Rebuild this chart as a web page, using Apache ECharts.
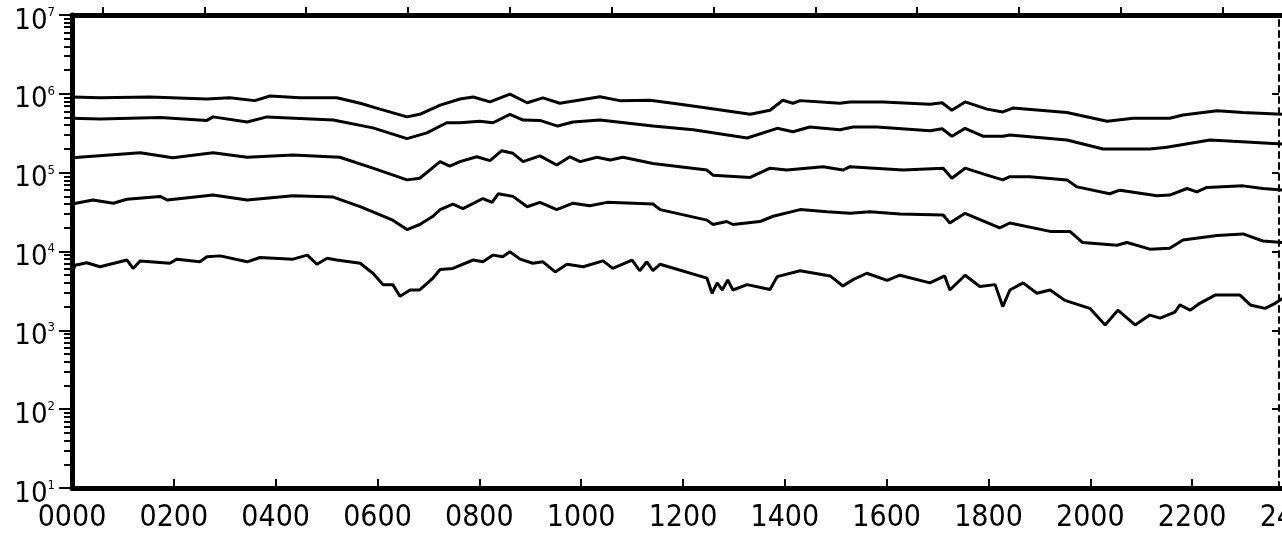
<!DOCTYPE html>
<html>
<head>
<meta charset="utf-8">
<script src="https://cdn.jsdelivr.net/npm/echarts@6/dist/echarts.min.js"></script>
<style>
html,body{margin:0;padding:0;background:#ffffff;}
#chart{width:1282px;height:535px;}
</style>
</head>
<body>
<div id="chart"></div>
<script>
// ---- tick labels ----
const xTickLabels = ['0000','0200','0400','0600','0800','1000','1200','1400','1600','1800','2000','2200','2400'];
const yExponents = [1, 2, 3, 4, 5, 6, 7];
const topTickTimes = [60, 260, 460, 660, 860, 1060, 1260, 1460, 1660, 1860, 2060, 2260];

// ---- series values: [time, value] ----
const series1 = [
  [0,9.1e5],[55,8.9e5],[153,9.1e5],[265,8.6e5],[310,8.9e5],[359,8.2e5],[389,9.4e5],[448,8.9e5],
  [520,8.9e5],[566,7.6e5],[605,6.4e5],[658,5.1e5],[683,5.5e5],[723,7.2e5],[762,8.6e5],[788,9.1e5],
  [821,7.9e5],[860,9.9e5],[894,7.7e5],[925,8.9e5],[958,7.6e5],[1037,9.2e5],[1076,8.2e5],[1135,8.3e5],
  [1180,7.6e5],[1247,6.6e5],[1332,5.5e5],[1371,6.2e5],[1396,8.3e5],[1416,7.6e5],[1430,8.2e5],[1508,7.6e5],
  [1528,7.9e5],[1593,7.9e5],[1685,7.4e5],[1709,7.7e5],[1728,6.2e5],[1754,7.9e5],[1797,6.4e5],[1828,5.9e5],
  [1848,6.6e5],[1954,5.8e5],[2033,4.5e5],[2084,4.9e5],[2156,4.9e5],[2182,5.4e5],[2249,6.1e5],[2300,5.8e5],
  [2380,5.5e5]
];
const series2 = [
  [0,4.9e5],[55,4.8e5],[173,5.0e5],[265,4.6e5],[277,5.1e5],[344,4.4e5],[383,5.1e5],[513,4.65e5],
  [591,3.7e5],[658,2.7e5],[697,3.2e5],[736,4.3e5],[762,4.3e5],[801,4.5e5],[827,4.3e5],[860,5.5e5],
  [886,4.65e5],[919,4.6e5],[954,3.9e5],[984,4.4e5],[1037,4.65e5],[1141,3.9e5],[1220,3.5e5],[1326,2.75e5],
  [1385,3.65e5],[1416,3.3e5],[1449,3.8e5],[1508,3.5e5],[1534,3.8e5],[1581,3.8e5],[1685,3.4e5],[1709,3.6e5],
  [1728,2.9e5],[1754,3.65e5],[1789,2.9e5],[1828,2.9e5],[1842,3.0e5],[1954,2.6e5],[2025,2.0e5],[2117,2.0e5],
  [2150,2.1e5],[2235,2.6e5],[2280,2.5e5],[2380,2.3e5]
];
const series3 = [
  [0,1.55e5],[134,1.79e5],[198,1.55e5],[277,1.79e5],[344,1.57e5],[434,1.68e5],[526,1.57e5],[591,1.14e5],
  [658,8.1e4],[683,8.5e4],[723,1.38e5],[742,1.21e5],[762,1.38e5],[795,1.59e5],[821,1.42e5],[844,1.9e5],
  [866,1.76e5],[886,1.38e5],[919,1.63e5],[952,1.25e5],[978,1.59e5],[998,1.38e5],[1031,1.57e5],[1057,1.45e5],
  [1082,1.57e5],[1141,1.31e5],[1247,1.08e5],[1259,9.3e4],[1332,8.7e4],[1371,1.14e5],[1404,1.08e5],[1475,1.19e5],
  [1514,1.08e5],[1528,1.19e5],[1632,1.08e5],[1711,1.14e5],[1728,8.5e4],[1754,1.14e5],[1797,9.3e4],[1828,8.1e4],
  [1842,8.9e4],[1881,8.9e4],[1954,8.1e4],[1974,6.6e4],[2038,5.4e4],[2058,6.0e4],[2131,5.1e4],[2156,5.2e4],
  [2190,6.3e4],[2209,5.7e4],[2229,6.5e4],[2300,6.8e4],[2339,6.3e4],[2380,6.0e4]
];
const series4 = [
  [0,4.0e4],[41,4.5e4],[81,4.1e4],[108,4.6e4],[173,5.0e4],[187,4.5e4],[277,5.2e4],[344,4.5e4],
  [434,5.1e4],[513,4.9e4],[566,3.7e4],[630,2.5e4],[658,1.9e4],[683,2.2e4],[709,2.8e4],[723,3.4e4],
  [748,4.0e4],[768,3.5e4],[807,4.7e4],[825,4.2e4],[837,5.4e4],[866,5.0e4],[894,3.7e4],[919,4.2e4],
  [952,3.4e4],[984,4.1e4],[1017,3.8e4],[1051,4.2e4],[1141,4.0e4],[1155,3.4e4],[1247,2.5e4],[1259,2.2e4],
  [1286,2.4e4],[1298,2.2e4],[1351,2.4e4],[1377,2.8e4],[1430,3.4e4],[1483,3.2e4],[1528,3.05e4],[1567,3.2e4],
  [1626,3.0e4],[1711,2.9e4],[1724,2.3e4],[1754,3.05e4],[1822,2.0e4],[1842,2.3e4],[1921,1.8e4],[1960,1.8e4],
  [1985,1.3e4],[2052,1.2e4],[2072,1.3e4],[2117,1.07e4],[2156,1.1e4],[2182,1.4e4],[2249,1.6e4],[2300,1.67e4],
  [2339,1.36e4],[2380,1.3e4]
];
const series5 = [
  [0,5.3e3],[6,6.7e3],[29,7.2e3],[55,6.4e3],[108,7.8e3],[120,6.1e3],[134,7.6e3],[192,7.1e3],
  [206,8.0e3],[251,7.4e3],[265,8.6e3],[291,8.8e3],[344,7.4e3],[369,8.4e3],[434,8.0e3],[462,9.0e3],
  [481,6.9e3],[501,8.2e3],[520,7.8e3],[566,7.1e3],[591,5.3e3],[611,3.8e3],[630,3.8e3],[644,2.7e3],
  [664,3.25e3],[683,3.25e3],[709,4.6e3],[723,5.9e3],[748,6.1e3],[788,7.8e3],[807,7.4e3],[827,9.0e3],
  [846,8.6e3],[860,9.9e3],[880,8.0e3],[905,7.1e3],[925,7.4e3],[949,5.5e3],[972,6.9e3],[1004,6.4e3],
  [1043,7.6e3],[1062,6.1e3],[1100,7.8e3],[1115,5.7e3],[1129,7.4e3],[1141,5.7e3],[1155,6.9e3],[1247,4.6e3],
  [1257,2.95e3],[1267,4.0e3],[1277,3.25e3],[1288,4.35e3],[1298,3.25e3],[1326,3.8e3],[1371,3.3e3],[1385,4.8e3],
  [1430,5.7e3],[1489,4.9e3],[1514,3.65e3],[1534,4.4e3],[1561,5.3e3],[1601,4.3e3],[1626,5.0e3],[1685,4.0e3],
  [1714,4.9e3],[1724,3.25e3],[1754,5.0e3],[1783,3.6e3],[1813,3.8e3],[1828,2.0e3],[1842,3.25e3],[1868,4.0e3],
  [1895,2.95e3],[1921,3.25e3],[1950,2.4e3],[1999,1.9e3],[2029,1.17e3],[2054,1.8e3],[2088,1.17e3],[2108,1.43e3],
  [2117,1.56e3],[2137,1.43e3],[2166,1.7e3],[2176,2.1e3],[2196,1.8e3],[2215,2.2e3],[2245,2.8e3],[2294,2.8e3],
  [2314,2.1e3],[2343,1.9e3],[2363,2.2e3],[2380,2.6e3]
];

// ---- chart ----
const FONT = "'DejaVu Sans Condensed','Liberation Sans Narrow','DejaVu Sans',sans-serif";
const decadeValues = yExponents.map(e => Math.pow(10, e));
const minorValues = [];
for (let i = 0; i < yExponents.length - 1; i++) {
  for (let m = 2; m <= 9; m++) minorValues.push(m * decadeValues[i]);
}
const allSeries = [series1, series2, series3, series4, series5];

const chart = echarts.init(document.getElementById('chart'), null, {renderer: 'canvas'});
const option = {
  animation: false,
  backgroundColor: '#ffffff',
  grid: {left: 72, right: -12, top: 15, bottom: 47, containLabel: false, outerBoundsMode: 'none'},
  xAxis: [
    {
      type: 'value', min: 0, max: 2400, interval: 200, position: 'bottom',
      axisLine: {show: true, lineStyle: {color: '#000', width: 5}},
      axisTick: {show: true, inside: true, length: 9, lineStyle: {color: '#000', width: 2}},
      axisLabel: {
        formatter: v => xTickLabels[Math.round(v / 200)],
        fontFamily: FONT, fontSize: 30, color: '#000', margin: 15,
        showMinLabel: true, showMaxLabel: true, hideOverlap: false
      },
      splitLine: {show: false}
    },
    {
      type: 'value', min: 0, max: 2400, position: 'top',
      axisLine: {show: true, lineStyle: {color: '#000', width: 5}},
      axisTick: {show: true, inside: false, length: 8, customValues: topTickTimes, lineStyle: {color: '#000', width: 2}},
      axisLabel: {show: false},
      splitLine: {show: false}
    }
  ],
  yAxis: [
    {
      type: 'log', logBase: 10, min: 10, max: 1e7, position: 'left',
      axisLine: {show: true, lineStyle: {color: '#000', width: 5}},
      axisTick: {show: true, inside: false, length: 13, customValues: decadeValues, lineStyle: {color: '#000', width: 2}},
      axisLabel: {
        customValues: decadeValues,
        margin: 17,
        formatter: v => '{b|10}{e|' + yExponents[Math.round(Math.log10(v)) - 1] + '}',
        padding: [12, 0, 0, 0],
        rich: {
          b: {fontFamily: FONT, fontSize: 29, lineHeight: 30, color: '#000'},
          e: {fontFamily: FONT, fontSize: 13, lineHeight: 14, color: '#000', verticalAlign: 'top'}
        }
      },
      splitLine: {show: false}
    },
    {
      type: 'log', logBase: 10, min: 10, max: 1e7, position: 'left',
      axisLine: {show: false},
      axisTick: {show: true, inside: false, length: 8, customValues: minorValues, lineStyle: {color: '#000', width: 2}},
      axisLabel: {show: false},
      splitLine: {show: false}
    },
    {
      type: 'log', logBase: 10, min: 10, max: 1e7, position: 'right', offset: -15,
      axisLine: {show: true, lineStyle: {color: '#000', width: 2, type: [6, 5]}},
      axisTick: {show: true, inside: true, length: 7, customValues: decadeValues.slice(1, 6), lineStyle: {color: '#000', width: 2}},
      axisLabel: {show: false},
      splitLine: {show: false}
    }
  ],
  series: allSeries.map(d => ({
    type: 'line', data: d, xAxisIndex: 0, yAxisIndex: 0,
    symbol: 'none', showSymbol: false, silent: true, clip: true,
    lineStyle: {color: '#000', width: 3}
  }))
};
chart.setOption(option);
</script>
</body>
</html>
